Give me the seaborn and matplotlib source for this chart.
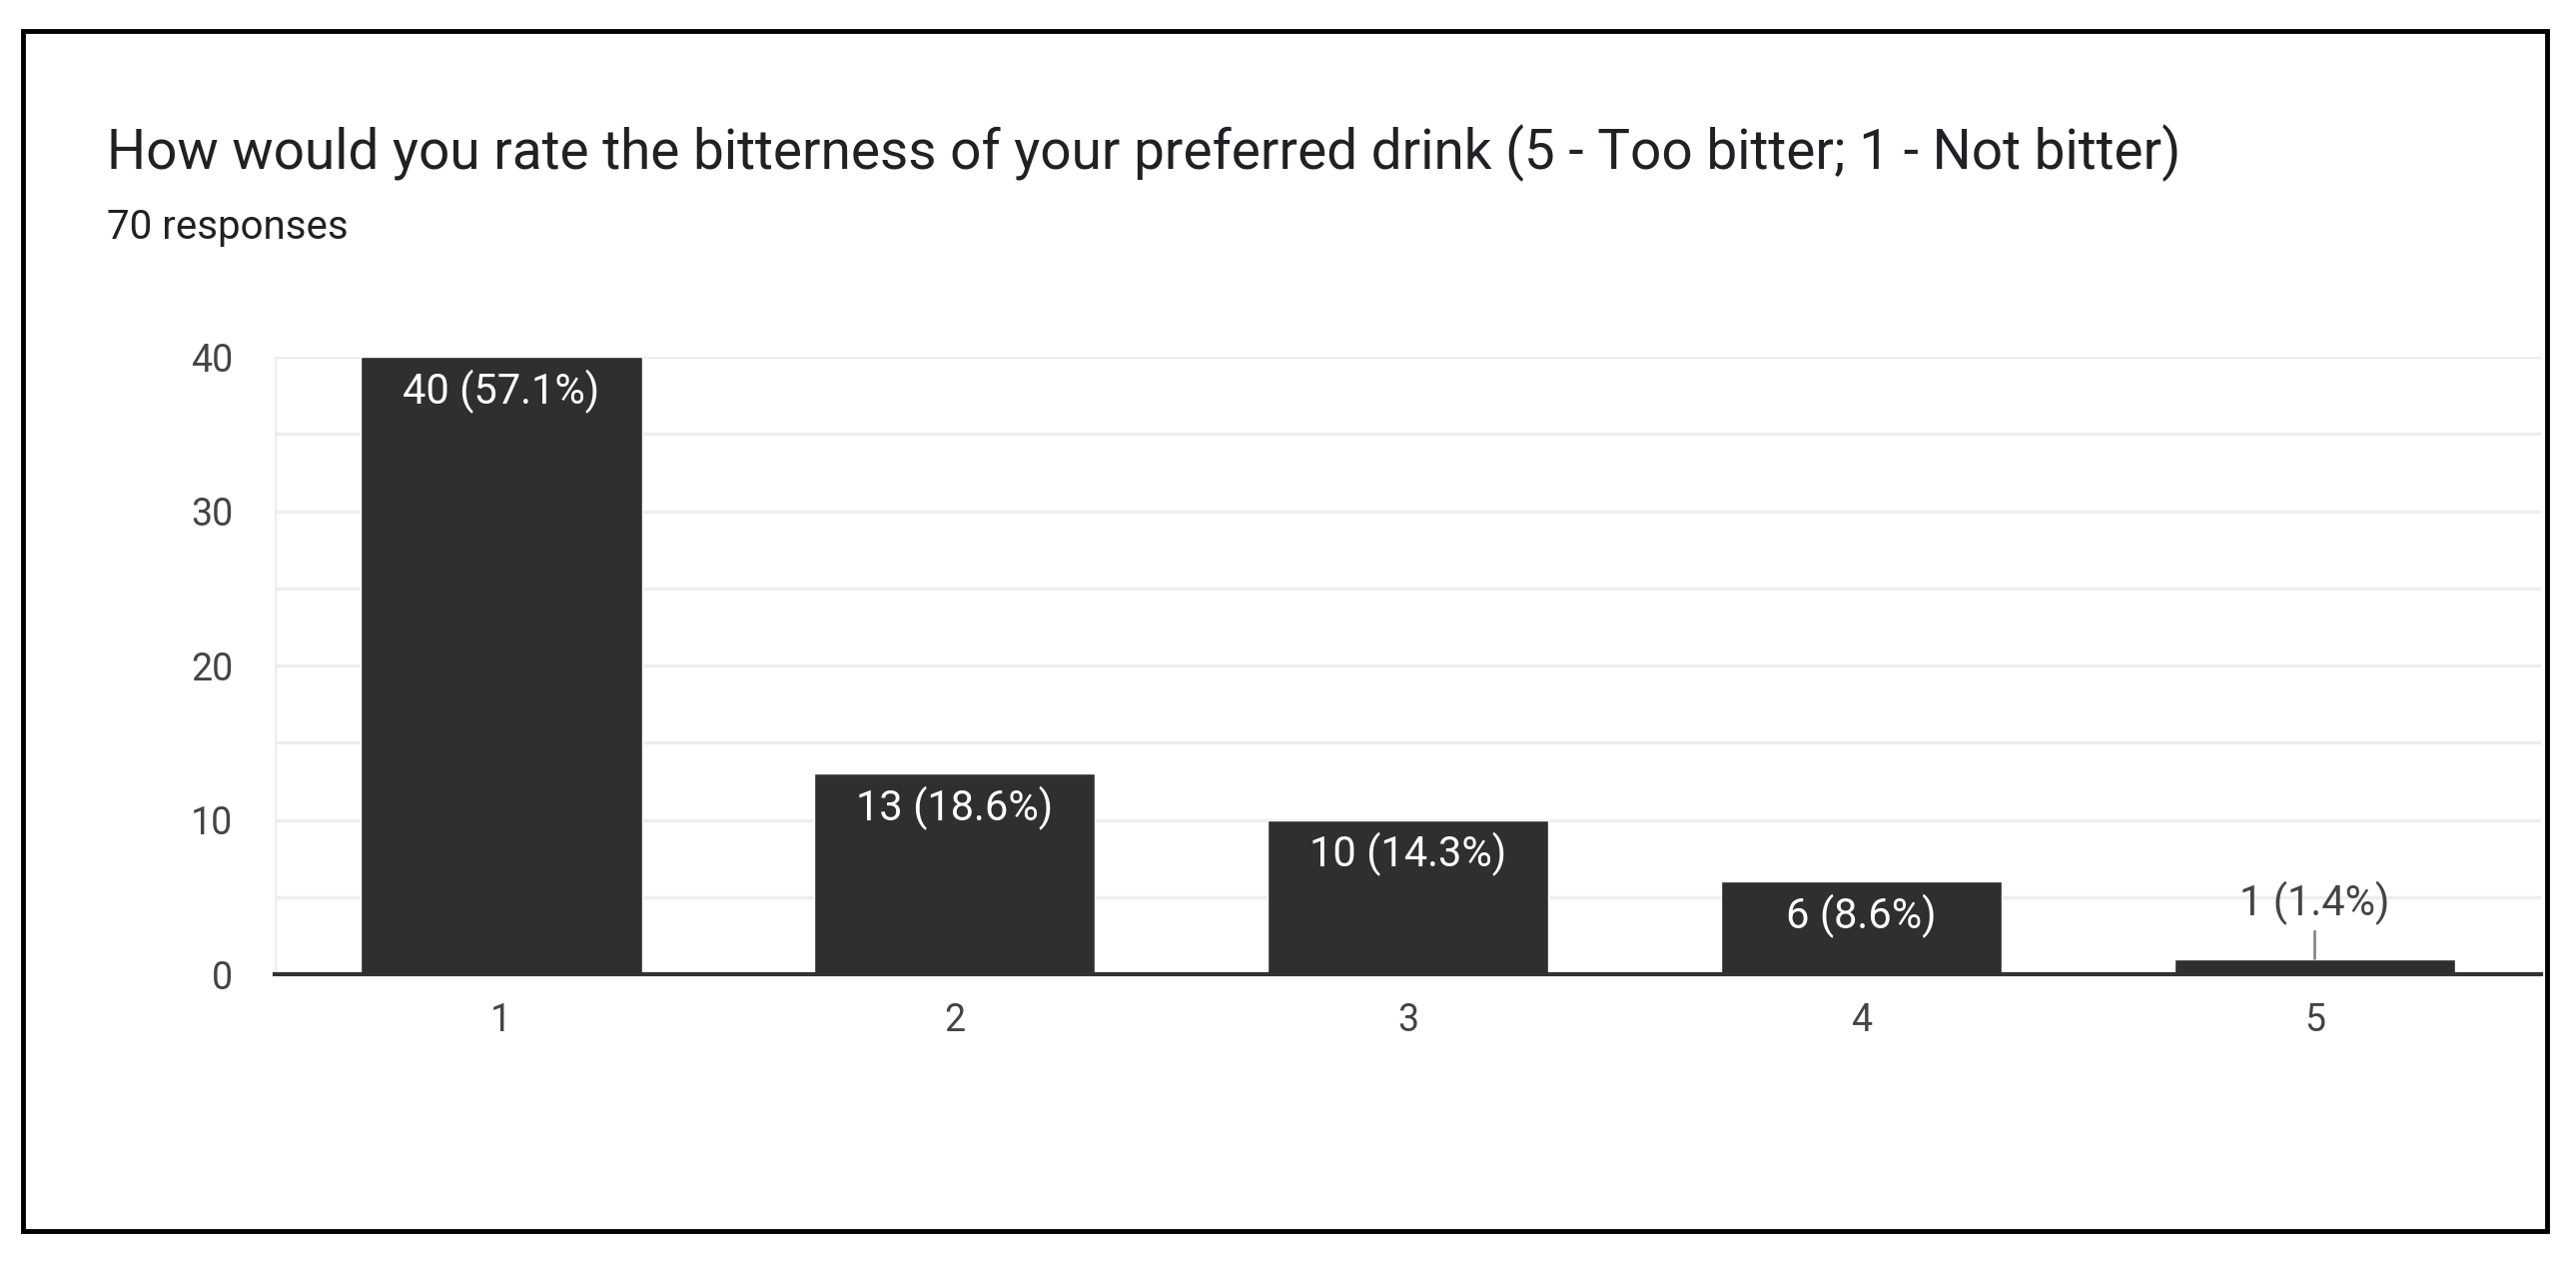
import matplotlib
matplotlib.use("Agg")
import matplotlib.pyplot as plt
import seaborn as sns
import pandas as pd

# valori
categorie = ["1", "2", "3", "4", "5"]
risposte = [40, 13, 10, 6, 1]
percentuali = ["57.1%", "18.6%", "14.3%", "8.6%", "1.4%"]
titolo = "How would you rate the bitterness of your preferred drink (5 - Too bitter; 1 - Not bitter)"
sottotitolo = "70 responses"
tick_y = [0, 10, 20, 30, 40]

df = pd.DataFrame({"voto": categorie, "risposte": risposte})

sns.set_style("white")
plt.rcParams["font.family"] = ["Roboto", "DejaVu Sans"]

fig = plt.figure(figsize=(25.79, 12.62), dpi=100)
ax = fig.add_axes([0.1066, 0.2274, 0.880, 0.4897])

colore_barre = "#2e2f2e"
sns.barplot(data=df, x="voto", y="risposte", color=colore_barre, width=0.62,
            saturation=1, ax=ax, zorder=3)

ax.set_xlim(-0.5, 4.5)
ax.set_ylim(0, 40)
ax.set_yticks(tick_y)
ax.set_yticks([5, 15, 25, 35], minor=True)
ax.grid(axis="y", which="both", color="#eeeeee", linewidth=2.5, zorder=0)
ax.set_axisbelow(True)
for s in ["top", "right", "left"]:
    ax.spines[s].set_visible(False)
ax.spines["bottom"].set_color("#333333")
ax.spines["bottom"].set_linewidth(3)
ax.spines["bottom"].set_zorder(4)
ax.tick_params(axis="both", length=0, labelsize=27, colors="#444444")
ax.tick_params(axis="x", pad=20)
ax.tick_params(axis="y", pad=30)
ax.set_xlabel("")
ax.set_ylabel("")

# linea verticale sinistra della griglia
ax.axvline(-0.5, color="#eeeeee", linewidth=2.5, zorder=0)

for i, (v, p) in enumerate(zip(risposte, percentuali)):
    testo = f"{v} ({p})"
    if v >= 4:
        ax.annotate(testo, xy=(i, v), xytext=(0, -25), textcoords="offset points",
                    ha="center", va="center", color="white", fontsize=30, zorder=5)
    else:
        ax.annotate(testo, xy=(i, v), xytext=(0, 40), textcoords="offset points",
                    ha="center", va="center", color="#444444", fontsize=30, zorder=5,
                    arrowprops=dict(arrowstyle="-", color="#888888", lw=2,
                                    shrinkA=2, shrinkB=0))

fig.text(0.0415, 0.866, titolo, fontsize=39.5, color="#202124", ha="left", va="baseline")
fig.text(0.0415, 0.811, sottotitolo, fontsize=29, color="#202124", ha="left", va="baseline")

# cornice nera intorno alla figura
cornice = plt.Rectangle((0.0089, 0.0238), 0.9799, 0.9516, transform=fig.transFigure,
                        fill=False, edgecolor="black", linewidth=3.5, zorder=10)
fig.patches.append(cornice)

fig.savefig("out.png", dpi=100, facecolor="white")
plt.close(fig)
